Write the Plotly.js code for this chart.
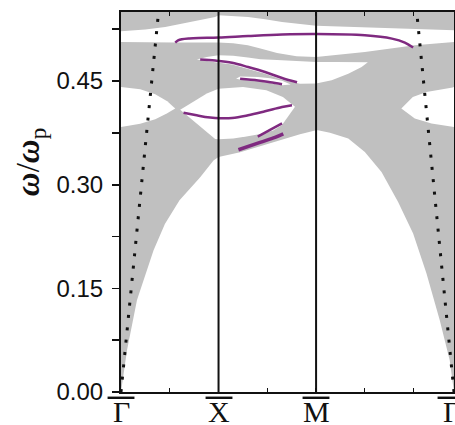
<!DOCTYPE html>
<html>
<head>
<meta charset="utf-8">
<script src="https://cdn.plot.ly/plotly-3.0.1.min.js"></script>
<style>html,body{margin:0;padding:0;background:#fff;}#chart{width:455px;height:425px;}</style>
</head>
<body>
<div id="chart"></div>
<script>
// high-symmetry points and tick labels
var kPos = [0, 1, 2, 3.414];
var kLabels = ["\u0393", "X", "M", "\u0393"];
var kMinor = [0.5, 1.5, 2.5, 3.0];
var yMajor = [0, 0.15, 0.30, 0.45];
var yMajorText = ["0.00", "0.15", "0.30", "0.45"];
var yMinor = [0.075, 0.225, 0.375, 0.525];
var yTop = 0.55;

// lower edge of the projected bulk bands
var lowerX = [0, 0.061, 0.164, 0.334, 0.45, 0.60, 0.812, 0.948, 1.0, 1.221, 1.426, 1.63, 1.835, 2.0, 2.019, 2.142, 2.330, 2.50, 2.671, 2.841, 2.995, 3.132, 3.268, 3.37, 3.414];
var lowerY = [0, 0.060, 0.133, 0.205, 0.243, 0.2775, 0.311, 0.335, 0.340, 0.347, 0.3556, 0.3643, 0.3730, 0.3788, 0.3788, 0.3752, 0.3668, 0.3474, 0.3184, 0.2750, 0.2293, 0.1714, 0.1038, 0.0459, 0];

// gap 1 (top band gap)
var gap1X = [0, 0.25, 0.453, 0.79, 0.965, 1.0, 1.303, 1.477, 1.651, 2.0, 2.5, 3.0, 3.414, 3.414, 3.012, 2.5, 2.0, 1.80, 1.60, 1.43, 1.30, 1.15, 1.0, 0.556, 0];
var gap1Y = [0.5221, 0.5245, 0.5283, 0.5380, 0.5428, 0.5452, 0.5428, 0.5394, 0.5356, 0.5300, 0.5279, 0.5255, 0.5235, 0.5066, 0.5018, 0.4921, 0.4849, 0.4860, 0.4905, 0.4970, 0.5020, 0.5047, 0.5057, 0.5057, 0.5066];

// gap 2
var gap2X = [0.778, 0.88, 1.0, 1.15, 1.30, 1.43, 1.60, 1.80, 2.0, 2.2, 2.4, 2.531, 2.467, 2.330, 2.160, 2.0, 1.835, 1.78, 1.651, 1.477, 1.303, 1.139, 0.965, 0.87];
var gap2Y = [0.4811, 0.4850, 0.4873, 0.4868, 0.4840, 0.4815, 0.4805, 0.4790, 0.4776, 0.4776, 0.4776, 0.4772, 0.4704, 0.4608, 0.4511, 0.4464, 0.4460, 0.4475, 0.4520, 0.4607, 0.4680, 0.4740, 0.4772, 0.4790];

// thin gap around surface mode 3
var gap2bX = [1.18, 1.221, 1.405, 1.528, 1.651, 1.74, 1.651, 1.528, 1.405, 1.221, 1.18];
var gap2bY = [0.4535, 0.4565, 0.4560, 0.4540, 0.4505, 0.4450, 0.4440, 0.4470, 0.4498, 0.4523, 0.4535];

// gap 3 (middle gap along X-M)
var gap3X = [0.607, 0.743, 0.880, 1.0, 1.25, 1.49, 1.66, 1.784, 1.733, 1.651, 1.56, 1.43, 1.30, 1.15, 1.0, 0.965];
var gap3Y = [0.4085, 0.4197, 0.4319, 0.4388, 0.4414, 0.4366, 0.4270, 0.4128, 0.4034, 0.3865, 0.3785, 0.3735, 0.3700, 0.3670, 0.3660, 0.3662];

// lens gaps at Gamma
var lensLX = [0, 0.197, 0.351, 0.474, 0.556, 0.474, 0.351, 0.197, 0];
var lensLY = [0.4414, 0.4381, 0.4309, 0.4208, 0.4102, 0.4034, 0.3947, 0.3882, 0.3836];
var lensRX = [3.414, 3.40, 3.132, 2.992, 2.874, 3.012, 3.183, 3.414];
var lensRY = [0.4414, 0.4406, 0.4342, 0.4270, 0.4102, 0.3957, 0.3885, 0.3836];

// surface modes
var p1X = [0.556, 0.585, 0.624, 0.70, 0.794, 1.0, 1.303, 1.651, 2.0, 2.5, 2.777, 2.910, 2.995];
var p1Y = [0.5057, 0.5088, 0.5105, 0.5117, 0.5124, 0.5130, 0.5152, 0.5173, 0.5180, 0.5163, 0.5115, 0.5057, 0.4985];
var p2X = [0.812, 0.965, 1.139, 1.303, 1.477, 1.651, 1.805];
var p2Y = [0.4813, 0.4797, 0.4765, 0.4704, 0.4632, 0.4545, 0.4483];
var p3X = [1.221, 1.405, 1.528, 1.651];
var p3Y = [0.4533, 0.4509, 0.4483, 0.4454];
var pmX = [0.641, 0.761, 0.863, 0.965, 1.139, 1.303, 1.477, 1.651, 1.753];
var pmY = [0.4041, 0.4008, 0.3980, 0.3966, 0.3966, 0.4005, 0.4063, 0.4125, 0.4150];
var p4X = [1.402, 1.528, 1.651];
var p4Y = [0.3697, 0.3795, 0.3889];
var p5X = [1.204, 1.426, 1.579, 1.664];
var p5Y = [0.3506, 0.3614, 0.3686, 0.3737];

// light lines
var lightLX = [0, 0.385];
var lightLY = [0, 0.55];
var lightRX = [3.414, 3.032];
var lightRY = [0, 0.55];

var GRAY = '#c0c0c0';
var PURPLE = '#7f2a80';

function poly(x, y, color) {
  return {x: x.concat([x[0]]), y: y.concat([y[0]]), mode: 'lines', fill: 'toself',
    fillcolor: color, line: {width: 0, color: color}, hoverinfo: 'skip', type: 'scatter'};
}
function curve(x, y, w) {
  return {x: x, y: y, mode: 'lines', line: {color: PURPLE, width: w, shape: 'spline'},
    hoverinfo: 'skip', type: 'scatter'};
}
function light(x, y) {
  return {x: x, y: y, mode: 'lines', line: {color: '#111', width: 3, dash: '3px,9.4px'},
    hoverinfo: 'skip', type: 'scatter'};
}

var baseX = lowerX.concat([kPos[3], kPos[0]]);
var baseY = lowerY.concat([yTop, yTop]);

var traces = [
  poly(baseX, baseY, GRAY),
  poly(gap1X, gap1Y, '#ffffff'),
  poly(gap2X, gap2Y, '#ffffff'),
  poly(gap2bX, gap2bY, '#ffffff'),
  poly(gap3X, gap3Y, '#ffffff'),
  poly(lensLX, lensLY, '#ffffff'),
  poly(lensRX, lensRY, '#ffffff'),
  light(lightLX, lightLY),
  light(lightRX, lightRY),
  curve(p1X, p1Y, 2.5),
  curve(p2X, p2Y, 2.5),
  curve(p3X, p3Y, 2.5),
  curve(pmX, pmY, 2.5),
  curve(p4X, p4Y, 2.5),
  curve(p5X, p5Y, 3.5)
];

var annotations = [];
kPos.forEach(function(k, i){
  var xs = (i === kPos.length - 1) ? -3 : 0;
  annotations.push({text: kLabels[i], xref: 'x', yref: 'paper', x: k, y: -0.052,
    xanchor: 'center', yanchor: 'middle', showarrow: false, xshift: xs,
    font: {family: 'Liberation Serif, serif', size: 30, color: '#111'}});
  annotations.push({text: '\u00AF', xref: 'x', yref: 'paper', x: k, y: -0.052,
    xanchor: 'center', yanchor: 'middle', showarrow: false, xshift: xs, yshift: -8,
    font: {family: 'Liberation Serif, serif', size: 52, color: '#111'}});
});
annotations.push({
  text: '<b><i>\u03c9</i></b>/<b><i>\u03c9</i></b><sub>p</sub>', xref: 'paper', yref: 'paper',
  x: -0.273, y: 0.605, xanchor: 'center', yanchor: 'middle', textangle: -90,
  showarrow: false, font: {family: 'Liberation Serif, serif', size: 33, color: '#111'}
});

var layout = {
  width: 455, height: 425,
  margin: {l: 121, r: 1, t: 12, b: 33, pad: 0},
  paper_bgcolor: '#fff', plot_bgcolor: '#fff',
  showlegend: false,
  xaxis: {range: [kPos[0], kPos[3]], tickmode: 'array', tickvals: kPos, showticklabels: false,
    ticks: 'inside', ticklen: 4, tickwidth: 1.2, tickcolor: '#111',
    minor: {tickmode: 'array', tickvals: kMinor, ticks: 'inside', ticklen: 4, tickwidth: 1.2, tickcolor: '#111'},
    showline: true, linewidth: 2, linecolor: '#111', mirror: 'ticks',
    showgrid: false, zeroline: false, fixedrange: true},
  yaxis: {range: [0, yTop], tickmode: 'array', tickvals: yMajor, ticktext: yMajorText,
    ticks: 'outside', ticklen: 7, tickwidth: 1.6, tickcolor: '#111',
    minor: {tickmode: 'array', tickvals: yMinor, ticks: 'outside', ticklen: 7, tickwidth: 1.6, tickcolor: '#111'},
    showline: true, linewidth: 2, linecolor: '#111', mirror: true,
    showgrid: false, zeroline: false, fixedrange: true, ticklabelstandoff: 4,
    tickfont: {family: 'Liberation Sans, Arial, sans-serif', size: 24, color: '#111'}},
  shapes: [kPos[1], kPos[2]].map(function(k){
    return {type: 'line', xref: 'x', yref: 'paper', x0: k, x1: k, y0: 0, y1: 1,
      line: {color: '#111', width: 2}, layer: 'above'};
  }),
  annotations: annotations
};

Plotly.newPlot('chart', traces, layout, {displayModeBar: false, staticPlot: true});
</script>
</body>
</html>
